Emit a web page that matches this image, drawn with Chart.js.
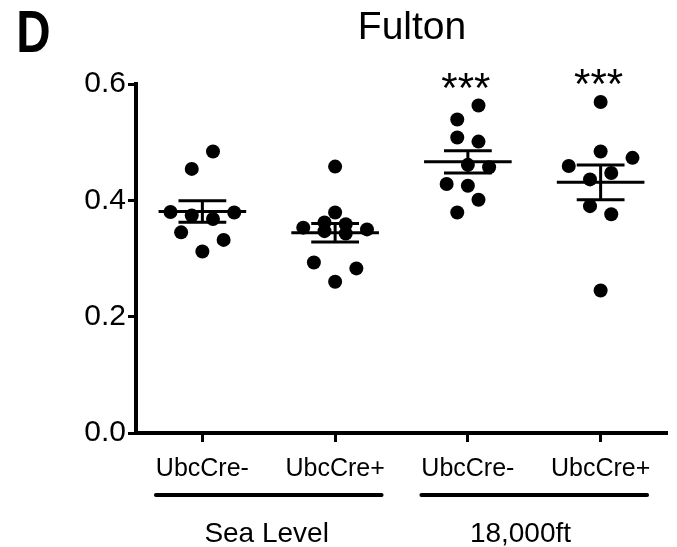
<!DOCTYPE html>
<html>
<head>
<meta charset="utf-8">
<title>Fulton</title>
<script src="https://cdn.jsdelivr.net/npm/chart.js@4/dist/chart.umd.min.js"></script>
<style>
  html, body { margin: 0; padding: 0; background: #fff; }
  #wrap { width: 677px; height: 547px; position: relative; }
</style>
</head>
<body>
<div id="wrap"><canvas id="fulton"></canvas></div>
<script>
// Fulton index per mouse, four genotype/altitude groups
const groupLabels = ['UbcCre-', 'UbcCre+', 'UbcCre-', 'UbcCre+'];
const conditionLabels = ['Sea Level', '18,000ft'];
const significance = ['', '', '***', '***'];
const yTickValues = [0, 0.2, 0.4, 0.6];

const seaMinus = [0.484, 0.454, 0.380, 0.374, 0.368, 0.379, 0.345, 0.332, 0.312];
const seaPlus = [0.458, 0.379, 0.353, 0.362, 0.347, 0.359, 0.343, 0.350, 0.293, 0.283, 0.260];
const altMinus = [0.563, 0.539, 0.508, 0.501, 0.461, 0.457, 0.428, 0.425, 0.401, 0.379];
const altPlus = [0.569, 0.484, 0.459, 0.473, 0.447, 0.436, 0.390, 0.376, 0.245];

// horizontal scatter offsets (category units) so dots don't overlap
const seaMinusJitter = [0.08, -0.08, -0.24, -0.08, 0.08, 0.24, -0.16, 0.16, 0];
const seaPlusJitter = [0, 0, -0.24, -0.08, -0.08, 0.08, 0.08, 0.24, -0.16, 0.16, 0];
const altMinusJitter = [0.08, -0.08, -0.08, 0.08, 0, 0.16, -0.16, 0, 0.08, -0.08];
const altPlusJitter = [0, 0, -0.24, 0.24, 0.08, -0.08, -0.08, 0.08, 0];

const groupValues = [seaMinus, seaPlus, altMinus, altPlus];
const groupJitter = [seaMinusJitter, seaPlusJitter, altMinusJitter, altPlusJitter];

const FONT = "'Liberation Sans', Arial, Helvetica, sans-serif";

function meanOf(arr) {
  return arr.reduce((a, b) => a + b, 0) / arr.length;
}

function semOf(arr) {
  const m = meanOf(arr);
  const ss = arr.reduce((a, v) => a + (v - m) * (v - m), 0);
  return Math.sqrt(ss / (arr.length - 1)) / Math.sqrt(arr.length);
}

const datasets = groupValues.map((vals, g) => ({
  label: groupLabels[g],
  data: vals.map((v, i) => ({ x: g + 1 + groupJitter[g][i], y: v })),
  backgroundColor: '#000',
  borderWidth: 0,
  pointRadius: 7,
  pointHoverRadius: 7,
}));

// mean line, SEM whiskers, significance stars, title and condition brackets
const annotatePlugin = {
  id: 'annotate',
  afterDatasetsDraw(chart) {
    const { ctx } = chart;
    const xs = chart.scales.x;
    const ys = chart.scales.y;
    ctx.save();
    ctx.strokeStyle = '#000';
    ctx.fillStyle = '#000';
    ctx.lineCap = 'butt';

    groupValues.forEach((vals, g) => {
      const c = g + 1;
      const m = meanOf(vals);
      const s = semOf(vals);
      const ym = ys.getPixelForValue(m);
      const yHi = ys.getPixelForValue(m + s);
      const yLo = ys.getPixelForValue(m - s);
      ctx.lineWidth = 3;
      ctx.beginPath();
      ctx.moveTo(xs.getPixelForValue(c - 0.33), ym);
      ctx.lineTo(xs.getPixelForValue(c + 0.33), ym);
      ctx.moveTo(xs.getPixelForValue(c), yHi);
      ctx.lineTo(xs.getPixelForValue(c), yLo);
      ctx.moveTo(xs.getPixelForValue(c - 0.18), yHi);
      ctx.lineTo(xs.getPixelForValue(c + 0.18), yHi);
      ctx.moveTo(xs.getPixelForValue(c - 0.18), yLo);
      ctx.lineTo(xs.getPixelForValue(c + 0.18), yLo);
      ctx.stroke();

      if (significance[g]) {
        const top = ys.getPixelForValue(Math.max(...vals));
        ctx.font = `42px ${FONT}`;
        ctx.textAlign = 'center';
        ctx.textBaseline = 'alphabetic';
        ctx.fillText(significance[g], xs.getPixelForValue(c) - 2, top - 4);
      }
    });

    // condition brackets under the axis
    ctx.lineWidth = 4;
    ctx.lineCap = 'round';
    const bracketY = 495;
    conditionLabels.forEach((lab, k) => {
      const a = 2 * k + 1;
      const b = 2 * k + 2;
      ctx.beginPath();
      ctx.moveTo(xs.getPixelForValue(a - 0.35), bracketY);
      ctx.lineTo(xs.getPixelForValue(b + 0.35), bracketY);
      ctx.stroke();
      ctx.font = `28px ${FONT}`;
      ctx.textAlign = 'left';
      ctx.textBaseline = 'middle';
      ctx.fillText(lab, xs.getPixelForValue(a) + 2, 534);
    });

    // chart title and panel letter
    ctx.font = `39px ${FONT}`;
    ctx.textAlign = 'center';
    ctx.textBaseline = 'middle';
    ctx.fillText('Fulton', 412, 28);
    ctx.font = `bold 56px ${FONT}`;
    ctx.textAlign = 'left';
    ctx.textBaseline = 'alphabetic';
    ctx.translate(18, 52);
    ctx.scale(0.85, 1.05);
    ctx.fillText('D', -2, 0);
    ctx.restore();
  },
};

new Chart(document.getElementById('fulton'), {
  type: 'scatter',
  data: { datasets },
  options: {
    responsive: true,
    maintainAspectRatio: false,
    animation: false,
    events: [],
    layout: { padding: { top: 84, right: 10, left: 0, bottom: 0 } },
    plugins: {
      legend: { display: false },
      tooltip: { enabled: false },
      title: { display: false },
    },
    scales: {
      x: {
        type: 'linear',
        min: 0.5,
        max: 4.5,
        afterBuildTicks: (scale) => {
          scale.ticks = groupLabels.map((_, i) => ({ value: i + 1 }));
        },
        afterFit: (scale) => { scale.height = 114; },
        ticks: {
          color: '#000',
          font: { family: FONT, size: 25 },
          padding: 12,
          maxRotation: 0,
          autoSkip: false,
          callback: (v) => groupLabels[v - 1],
        },
        grid: {
          drawOnChartArea: false,
          drawTicks: true,
          tickLength: 9,
          tickWidth: 3,
          color: '#000',
        },
        border: { color: '#000', width: 4 },
      },
      y: {
        min: 0,
        max: 0.6,
        afterBuildTicks: (scale) => {
          scale.ticks = yTickValues.map((v) => ({ value: v }));
        },
        afterFit: (scale) => { scale.width = 136; },
        ticks: {
          color: '#000',
          font: { family: FONT, size: 30 },
          padding: 2,
          callback: (v) => v.toFixed(1),
        },
        grid: {
          drawOnChartArea: false,
          drawTicks: true,
          tickLength: 8,
          tickWidth: 3,
          color: '#000',
        },
        border: { color: '#000', width: 4 },
      },
    },
  },
  plugins: [annotatePlugin],
});
</script>
</body>
</html>
